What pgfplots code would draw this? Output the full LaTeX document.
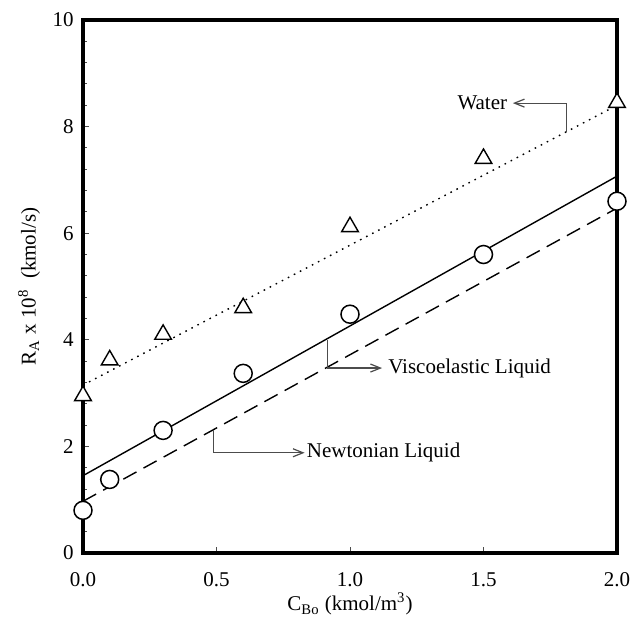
\documentclass[border=0pt]{standalone}
\usepackage{fontspec}
\setmainfont{Liberation Serif}
\usepackage{pgfplots}
\pgfplotsset{compat=1.18}
\usetikzlibrary{arrows.meta}

\definecolor{annot}{gray}{0.3}

\begin{document}
\fontsize{10.5}{12}\selectfont
\begin{tikzpicture}
\begin{axis}[%
scale only axis,
width=267pt,
height=266.5pt,
xmin=0, xmax=2,
ymin=0, ymax=10,
xtick={0,0.5,1,1.5,2},
ytick={0,2,4,6,8,10},
minor y tick num=4,
xticklabel style={/pgf/number format/fixed,/pgf/number format/fixed zerofill,/pgf/number format/precision=1,yshift=-6pt},
/pgf/number format/assume math mode=true,
tick align=inside,
xtick pos=bottom,
ytick pos=left,
major tick length=3pt,
minor tick length=2pt,
tick style={line width=0.5pt,color=black!70},
axis line style={line width=2pt},
yticklabel style={xshift=-1pt},
xlabel={C\textsubscript{Bo} (kmol/m\textsuperscript{3})},
ylabel={R\textsubscript{A} x 10\textsuperscript{8}~~(kmol/s)},
xlabel style={yshift=4pt},
ylabel style={yshift=-1pt},
clip=false,
]
% fitted lines
\addplot[black, line width=0.7pt, dash pattern=on 0.8pt off 2.6pt] coordinates {(0,3.15) (2,8.4)};
\addplot[black, line width=0.7pt] coordinates {(0,1.45) (2,7.07)};
\addplot[black, line width=0.7pt, dash pattern=on 7.5pt off 4pt] coordinates {(0,0.97) (2,6.47)};

% water (triangles)
\addplot[only marks, mark=triangle*, mark size=4.8pt, mark options={fill=white,draw=black,line width=0.7pt}] coordinates {
(0,2.95)
(0.1,3.62)
(0.3,4.1)
(0.6,4.6)
(1.0,6.12)
(1.5,7.4)
(2.0,8.45)
};

% liquid (circles)
\addplot[only marks, mark=*, mark size=4.5pt, mark options={fill=white,draw=black,line width=0.75pt}] coordinates {
(0,0.8)
(0.1,1.38)
(0.3,2.3)
(0.6,3.37)
(1.0,4.48)
(1.5,5.6)
(2.0,6.6)
};

% annotations
\draw[annot, line width=0.6pt, -{Straight Barb[length=5pt,width=4pt]}] (axis cs:1.81,7.9) -- (axis cs:1.81,8.44) -- (axis cs:1.61,8.44);
\node[anchor=east, inner sep=0pt] at (axis cs:1.59,8.44) {Water};
\draw[annot, line width=0.6pt, -{Straight Barb[length=5pt,width=4pt]}] (axis cs:0.916,4.0) -- (axis cs:0.916,3.47) -- (axis cs:1.12,3.47);
\node[anchor=west, inner sep=0pt] at (axis cs:1.142,3.47) {Viscoelastic Liquid};
\draw[annot, line width=0.6pt, -{Straight Barb[length=5pt,width=4pt]}] (axis cs:0.49,2.31) -- (axis cs:0.49,1.88) -- (axis cs:0.83,1.88);
\node[anchor=west, inner sep=0pt] at (axis cs:0.837,1.88) {Newtonian Liquid};
\end{axis}
\pgfresetboundingbox
\path ([xshift=-41.5pt,yshift=-38.5pt]current axis.south west) rectangle ([xshift=7.5pt,yshift=10pt]current axis.north east);
\end{tikzpicture}
\end{document}
